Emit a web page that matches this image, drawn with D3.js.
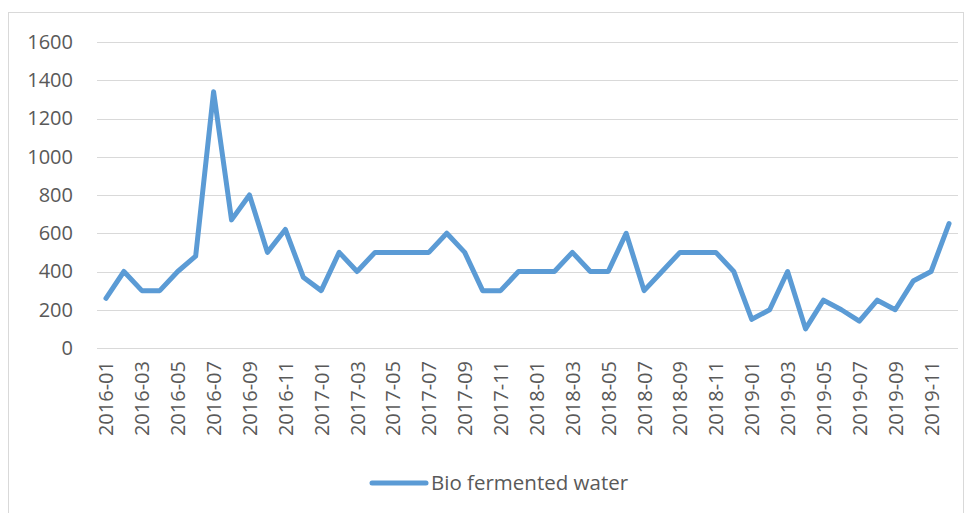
<!DOCTYPE html>
<html>
<head>
<meta charset="utf-8">
<script src="https://cdn.jsdelivr.net/npm/d3@7"></script>
<style>
  body { margin: 0; background: #fff; }
  svg text { font-family: "Open Sans", sans-serif; fill: #595959; }
</style>
</head>
<body>
<div id="chart"></div>
<script>
// monthly values, Jan 2016 .. Dec 2019
var months = [];
[2016, 2017, 2018, 2019].forEach(function(y) {
  for (var m = 1; m <= 12; m++) months.push(y + "-" + (m < 10 ? "0" + m : m));
});
var values = [
  260, 400, 300, 300, 400, 480, 1340, 670, 800, 500, 620, 370,
  300, 500, 400, 500, 500, 500, 500, 600, 500, 300, 300, 400,
  400, 400, 500, 400, 400, 600, 300, 400, 500, 500, 500, 400,
  150, 200, 400, 100, 250, 200, 140, 250, 200, 350, 400, 650
];
var yTicks = [0, 200, 400, 600, 800, 1000, 1200, 1400, 1600];
var seriesName = "Bio fermented water";

var width = 972, height = 513;
var margin = {top: 42, right: 14, bottom: 165, left: 97};
var innerW = width - margin.left - margin.right,
    innerH = height - margin.top - margin.bottom;

var svg = d3.select("#chart")
  .append("svg")
    .attr("width", width)
    .attr("height", height);

// chart frame
svg.append("rect")
  .attr("x", 8.5).attr("y", 12.5)
  .attr("width", 955).attr("height", 520)
  .attr("fill", "none")
  .attr("stroke", "#d9d9d9");

var g = svg.append("g")
  .attr("transform", "translate(" + margin.left + "," + margin.top + ")");

var x = d3.scalePoint()
  .domain(months)
  .range([0, innerW])
  .padding(0.5);

var y = d3.scaleLinear()
  .domain([0, 1600])
  .range([innerH, 0]);

// gridlines
g.selectAll(".grid")
  .data(yTicks)
  .enter()
  .append("line")
    .attr("class", "grid")
    .attr("x1", 0).attr("x2", innerW)
    .attr("y1", function(d) { return Math.round(y(d)) + 0.5; })
    .attr("y2", function(d) { return Math.round(y(d)) + 0.5; })
    .attr("stroke", "#d9d9d9")
    .attr("stroke-width", 1);

// y axis labels
var yAxis = g.append("g")
  .call(d3.axisLeft(y).tickValues(yTicks).tickFormat(d3.format("d")).tickSize(0).tickPadding(24));
yAxis.select(".domain").remove();
yAxis.selectAll("text")
  .style("font-size", "20px")
  .attr("fill", "#595959");

// x axis labels, every second month
var xAxis = g.append("g")
  .attr("transform", "translate(0," + innerH + ")")
  .call(d3.axisBottom(x)
    .tickValues(months.filter(function(d, i) { return i % 2 == 0; }))
    .tickSize(0));
xAxis.select(".domain").remove();
xAxis.selectAll("text")
  .style("font-size", "20px")
  .attr("fill", "#595959")
  .attr("text-anchor", "end")
  .attr("dy", "0.35em")
  .attr("transform", "translate(0,13) rotate(-90)")
  .attr("x", 0)
  .attr("y", 0);

// the series line
var line = d3.line()
  .x(function(d, i) { return x(months[i]); })
  .y(function(d) { return y(d); });

g.append("path")
  .datum(values)
  .attr("fill", "none")
  .attr("stroke", "#5b9bd5")
  .attr("stroke-width", 5)
  .attr("stroke-linejoin", "round")
  .attr("stroke-linecap", "round")
  .attr("d", line);

// legend
var legend = svg.append("g").attr("transform", "translate(372,483)");
legend.append("line")
  .attr("x1", 0).attr("x2", 54)
  .attr("y1", 0).attr("y2", 0)
  .attr("stroke", "#5b9bd5")
  .attr("stroke-width", 5)
  .attr("stroke-linecap", "round");
legend.append("text")
  .attr("x", 59)
  .attr("dy", "0.35em")
  .style("font-size", "20.5px")
  .text(seriesName);
</script>
</body>
</html>
